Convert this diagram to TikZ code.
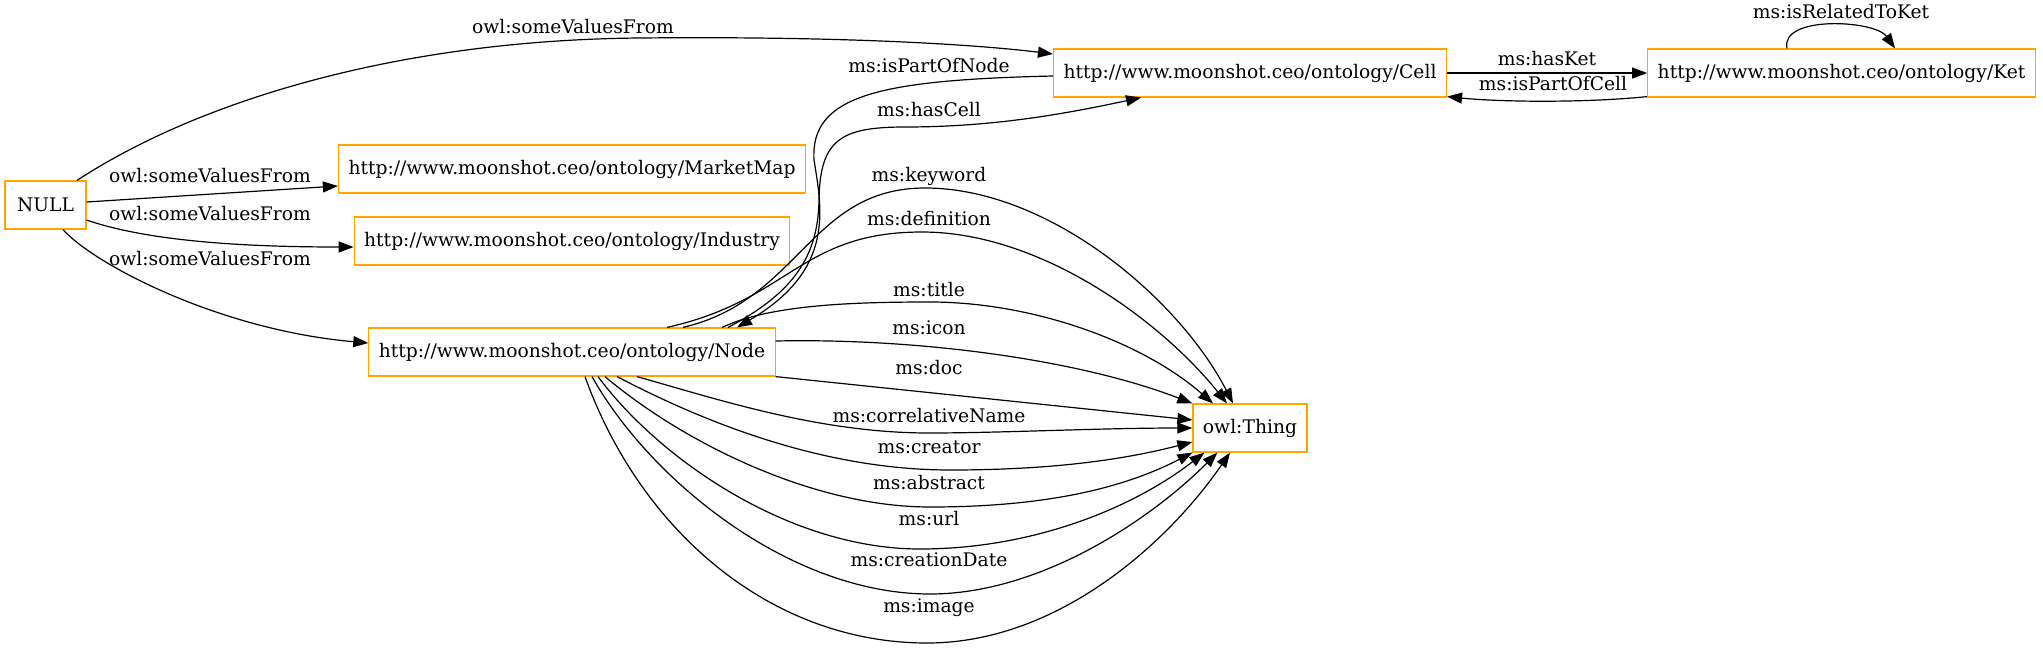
\documentclass[tikz,border=0pt]{standalone}
\usepackage{fontspec}
\setmainfont{DejaVu Serif}
\usepackage{tikz}
\usetikzlibrary{positioning, arrows.meta, calc}
\definecolor{gvorange}{HTML}{FFA500}

\begin{document}
\begin{tikzpicture}[x=0.5pt, y=-0.5pt,
    cls/.style={draw=gvorange, line width=0.6pt, minimum height=24pt, inner xsep=5pt, font=\fontsize{9.35}{11}\selectfont},
    rel/.style={draw=black, line width=0.6pt, -{Triangle[length=7.5pt, width=5.5pt]}},
    lbl/.style={inner sep=0pt, text height=6.8pt, text depth=1.9pt, font=\fontsize{9.35}{11}\selectfont}]
    \useasboundingbox (0,0) rectangle (2043,648);

    % ---------------- CLASSES ----------------
    \node[cls, minimum width=40.5pt] (nl) at (45.5,205) {NULL};
    \node[cls] (mm) at (572,169) {http://www.moonshot.ceo/ontology/MarketMap};
    \node[cls] (ind) at (572,241) {http://www.moonshot.ceo/ontology/Industry};
    \node[cls] (nd) at (572,352) {http://www.moonshot.ceo/ontology/Node};
    \node[cls] (cl) at (1250,73) {http://www.moonshot.ceo/ontology/Cell};
    \node[cls] (kt) at (1841.5,73) {http://www.moonshot.ceo/ontology/Ket};
    \node[cls] (th) at (1250,428) {owl:Thing};

    % ---------------- NULL restrictions ----------------
    \draw[rel] ($(nl.north)+(31.5,0)$) .. controls (200,100) and (400,40) .. (640,38) .. controls (850,36) and (980,45) .. ($(cl.west)+(0,-19)$);
    \draw[rel] ($(nl.east)+(0,-3)$) -- ($(mm.west)+(0,17)$);
    \draw[rel] ($(nl.east)+(0,15)$) .. controls (150,242) and (250,247) .. ($(ind.west)+(0,6)$);
    \draw[rel] ($(nl.south)+(17.5,0)$) .. controls (95,265) and (220,330) .. ($(nd.west)+(0,-9)$);
    \node[lbl] (lsv1) at (573,29) {owl:someValuesFrom};
    \node[lbl] (lsv2) at (210,178) {owl:someValuesFrom};
    \node[lbl] (lsv3) at (210,216) {owl:someValuesFrom};
    \node[lbl] (lsv4) at (210,261) {owl:someValuesFrom};

    % ---------------- Cell / Ket ----------------
    \draw[rel] (cl.east) -- (kt.west);
    \draw[rel] ($(kt.south west)+(0,-1)$) .. controls (1585,103) and (1500,102) .. ($(cl.south east)+(0,-1)$);
    \draw[rel] ($(kt.north)+(-54.5,0)$) .. controls (1780,15) and (1875,20) .. ($(kt.north)+(53.5,0)$);
    \node[lbl] (lhasket) at (1547,61) {ms:hasKet};
    \node[lbl] (lpartcell) at (1553,86) {ms:isPartOfCell};
    \node[lbl] (lrelket) at (1841,14) {ms:isRelatedToKet};

    % ---------------- Node / Cell ----------------
    \draw[rel] ($(cl.west)+(0,3)$) .. controls (880,80) and (810,95) .. (814,160) .. controls (822,210) and (835,270) .. ($(nd.north)+(165,0)$);
    \draw[rel] ($(nd.north)+(156,0)$) .. controls (800,290) and (818,250) .. (819,200) .. controls (820,140) and (840,127) .. (905,127) .. controls (990,127) and (1060,115) .. ($(cl.south)+(-109,0)$);
    \node[lbl] (lpartnode) at (929,68) {ms:isPartOfNode};
    \node[lbl] (lhascell) at (929,112) {ms:hasCell};

    % ---------------- Node properties ----------------
    \draw[rel] ($(nd.north)+(111,0)$) .. controls (800,300) and (810,188) .. (925,188) .. controls (1050,188) and (1180,300) .. ($(th.north)+(-17,0)$); % keyword
    \draw[rel] ($(nd.north)+(95,0)$) .. controls (790,300) and (800,232) .. (922,232) .. controls (1040,232) and (1160,320) .. ($(th.north)+(-23,0)$); % definition
    \draw[rel] ($(nd.north)+(150,0)$) .. controls (770,305) and (850,302) .. (930,302) .. controls (1030,302) and (1140,340) .. ($(th.north)+(-37,0)$); % title
    \draw[rel] ($(nd.east)+(0,-11)$) .. controls (920,338) and (1080,360) .. (th.north west); % icon
    \draw[rel] (nd.south east) -- ($(th.west)+(0,-8)$); % doc
    \draw[rel] ($(nd.south)+(65,0)$) .. controls (720,400) and (820,433) .. (929,433) .. controls (1000,433) and (1100,428) .. (th.west); % correlativeName
    \draw[rel] ($(nd.south)+(45,0)$) .. controls (700,420) and (820,470) .. (950,470) .. controls (1060,470) and (1130,458) .. ($(th.west)+(0,14)$); % creator
    \draw[rel] ($(nd.south)+(33,0)$) .. controls (680,440) and (810,507) .. (930,507) .. controls (1040,507) and (1120,490) .. (th.south west); % abstract
    \draw[rel] ($(nd.south)+(26,0)$) .. controls (660,460) and (790,549) .. (920,549) .. controls (1030,549) and (1130,510) .. ($(th.south west)+(12,0)$); % url
    \draw[rel] ($(nd.south)+(20,0)$) .. controls (650,480) and (790,594) .. (930,594) .. controls (1040,594) and (1150,520) .. ($(th.south west)+(25,0)$); % creationDate
    \draw[rel] ($(nd.south)+(13,0)$) .. controls (640,530) and (770,643) .. (927,643) .. controls (1060,643) and (1170,540) .. ($(th.south)+(-20,0)$); % image

    \node[lbl] (lkeyword) at (929,177) {ms:keyword};
    \node[lbl] (ldefinition) at (929,221) {ms:definition};
    \node[lbl] (ltitle) at (929,292) {ms:title};
    \node[lbl] (licon) at (929,330) {ms:icon};
    \node[lbl] (ldoc) at (929,370) {ms:doc};
    \node[lbl] (lcorrname) at (929,418) {ms:correlativeName};
    \node[lbl] (lcreator) at (929,449) {ms:creator};
    \node[lbl] (labstract) at (929,485) {ms:abstract};
    \node[lbl] (lurl) at (929,521) {ms:url};
    \node[lbl] (lcrdate) at (929,562) {ms:creationDate};
    \node[lbl] (limage) at (929,608) {ms:image};
\end{tikzpicture}
\end{document}
